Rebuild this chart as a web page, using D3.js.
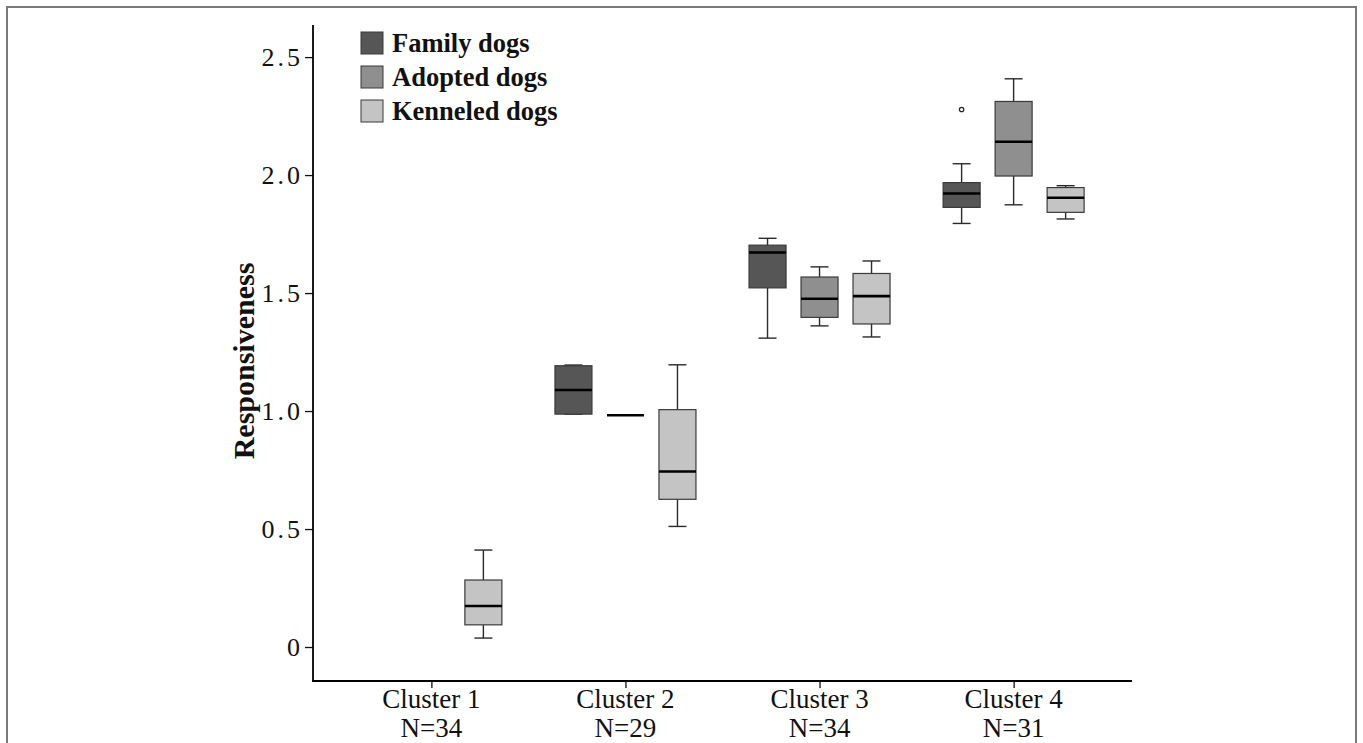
<!DOCTYPE html>
<html>
<head>
<meta charset="utf-8">
<script src="https://cdn.jsdelivr.net/npm/d3@7"></script>
<style>
  html, body { margin: 0; padding: 0; background: #fff; }
  svg { display: block; }
  text { font-family: "Liberation Serif", "Times New Roman", serif; fill: #111; }
</style>
</head>
<body>
<svg id="chart" width="1363" height="743"></svg>
<script>
// Cluster categories and their sample sizes
const clusters = ["Cluster 1", "Cluster 2", "Cluster 3", "Cluster 4"];
const clusterN = ["N=34", "N=29", "N=34", "N=31"];
const groups = ["Family dogs", "Adopted dogs", "Kenneled dogs"];
const groupColors = ["#565656", "#8f8f8f", "#c4c4c4"];

// Box statistics per cluster: [lower whisker, Q1, median, Q3, upper whisker]
const familyStats = [
  null,
  [0.987, 0.987, 1.089, 1.192, 1.195],
  [1.309, 1.522, 1.672, 1.703, 1.732],
  [1.795, 1.863, 1.922, 1.968, 2.048]
];
const adoptedStats = [
  null,
  [0.982, 0.982, 0.982, 0.982, 0.982],
  [1.361, 1.397, 1.476, 1.568, 1.611],
  [1.874, 1.996, 2.141, 2.312, 2.408]
];
const kenneledStats = [
  [0.038, 0.094, 0.174, 0.284, 0.411],
  [0.511, 0.626, 0.744, 1.006, 1.196],
  [1.314, 1.369, 1.487, 1.583, 1.636],
  [1.814, 1.842, 1.904, 1.947, 1.955]
];
// Outlying observations: [cluster index, group index, value]
const outliers = [[3, 0, 2.278]];

const yTicks = [0, 0.5, 1.0, 1.5, 2.0, 2.5];
const yTickLabels = ["0", "0.5", "1.0", "1.5", "2.0", "2.5"];

const svg = d3.select("#chart");

// Outer frame (top, left, right)
svg.append("path")
  .attr("d", "M7,743 V7 H1356 V743")
  .attr("fill", "none")
  .attr("stroke", "#7a7a7a")
  .attr("stroke-width", 2);

const plot = { left: 313, right: 1132, top: 25, bottom: 681 };

const x = d3.scalePoint().domain(clusters).range([plot.left, plot.right]).padding(0.61);
const y = d3.scaleLinear().domain([-0.144, 2.636]).range([plot.bottom, plot.top]);

const dodge = 52;
const boxW = 37;
const capW = 18;

const allStats = [familyStats, adoptedStats, kenneledStats];
const boxes = [];
allStats.forEach((series, gi) => {
  series.forEach((s, ci) => {
    if (s) boxes.push({ gi, ci, s });
  });
});

const g = svg.append("g");
const bx = d => x(clusters[d.ci]) + (d.gi - 1) * dodge;

const bg = g.selectAll("g.box").data(boxes).enter().append("g").attr("class", "box");

// whiskers
bg.append("line")
  .attr("x1", bx).attr("x2", bx)
  .attr("y1", d => y(d.s[0])).attr("y2", d => y(d.s[1]))
  .attr("stroke", "#2a2a2a").attr("stroke-width", 1.4);
bg.append("line")
  .attr("x1", bx).attr("x2", bx)
  .attr("y1", d => y(d.s[3])).attr("y2", d => y(d.s[4]))
  .attr("stroke", "#2a2a2a").attr("stroke-width", 1.4);
// whisker caps
[0, 4].forEach(k => {
  bg.append("line")
    .attr("x1", d => bx(d) - capW / 2).attr("x2", d => bx(d) + capW / 2)
    .attr("y1", d => y(d.s[k])).attr("y2", d => y(d.s[k]))
    .attr("stroke", "#2a2a2a").attr("stroke-width", 1.4);
});
// box body
bg.append("rect")
  .attr("x", d => bx(d) - boxW / 2)
  .attr("width", boxW)
  .attr("y", d => y(d.s[3]))
  .attr("height", d => y(d.s[1]) - y(d.s[3]))
  .attr("fill", d => groupColors[d.gi])
  .attr("stroke", "#3a3a3a").attr("stroke-width", 1.2);
// median
bg.append("line")
  .attr("x1", d => bx(d) - boxW / 2).attr("x2", d => bx(d) + boxW / 2)
  .attr("y1", d => y(d.s[2])).attr("y2", d => y(d.s[2]))
  .attr("stroke", "#000").attr("stroke-width", 2.6);

// outliers
g.selectAll("circle.out").data(outliers).enter().append("circle")
  .attr("cx", d => x(clusters[d[0]]) + (d[1] - 1) * dodge)
  .attr("cy", d => y(d[2]))
  .attr("r", 2.2)
  .attr("fill", "#fff")
  .attr("stroke", "#222").attr("stroke-width", 1.2);

// Axes
const yAxis = d3.axisLeft(y).tickValues(yTicks)
  .tickFormat((d, i) => yTickLabels[i]).tickSize(8).tickPadding(2);
const ya = svg.append("g").attr("transform", `translate(${plot.left},0)`).call(yAxis);
ya.select(".domain").remove();
ya.selectAll(".tick line").attr("stroke", "#111").attr("stroke-width", 1.3);
ya.selectAll(".tick text")
  .attr("font-size", 26)
  .attr("font-family", "Liberation Serif, serif")
  .attr("fill", "#222")
  .attr("letter-spacing", 3);

const xAxis = d3.axisBottom(x).tickSize(7).tickFormat(() => "");
const xa = svg.append("g").attr("transform", `translate(0,${plot.bottom})`).call(xAxis);
xa.select(".domain").remove();
xa.selectAll(".tick line").attr("stroke", "#111").attr("stroke-width", 1.3);

// axis lines
svg.append("line").attr("x1", plot.left).attr("x2", plot.left)
  .attr("y1", plot.top).attr("y2", plot.bottom + 0.8)
  .attr("stroke", "#000").attr("stroke-width", 1.8);
svg.append("line").attr("x1", plot.left - 0.8).attr("x2", plot.right)
  .attr("y1", plot.bottom).attr("y2", plot.bottom)
  .attr("stroke", "#000").attr("stroke-width", 1.8);

// category labels
const xl = svg.append("g");
clusters.forEach((c, i) => {
  xl.append("text").attr("x", x(c)).attr("y", 708)
    .attr("text-anchor", "middle").attr("font-size", 27).attr("fill", "#222").text(c);
  xl.append("text").attr("x", x(c)).attr("y", 737)
    .attr("text-anchor", "middle").attr("font-size", 27).attr("fill", "#222").text(clusterN[i]);
});

// y-axis title
svg.append("text")
  .attr("transform", `translate(254,${(plot.top + plot.bottom) / 2 + 8}) rotate(-90)`)
  .attr("text-anchor", "middle")
  .attr("font-size", 30)
  .attr("font-weight", "bold")
  .attr("fill", "#111")
  .text("Responsiveness");

// Legend
const lg = svg.append("g").attr("transform", "translate(361,32)");
groups.forEach((name, i) => {
  const row = lg.append("g").attr("transform", `translate(0,${i * 34})`);
  row.append("rect").attr("x", 0).attr("y", 0).attr("width", 22).attr("height", 22)
    .attr("fill", groupColors[i]).attr("stroke", "#3a3a3a").attr("stroke-width", 1);
  row.append("text").attr("x", 31).attr("y", 20)
    .attr("font-size", 26.5).attr("font-weight", "bold").attr("fill", "#111").text(name);
});
</script>
</body>
</html>
